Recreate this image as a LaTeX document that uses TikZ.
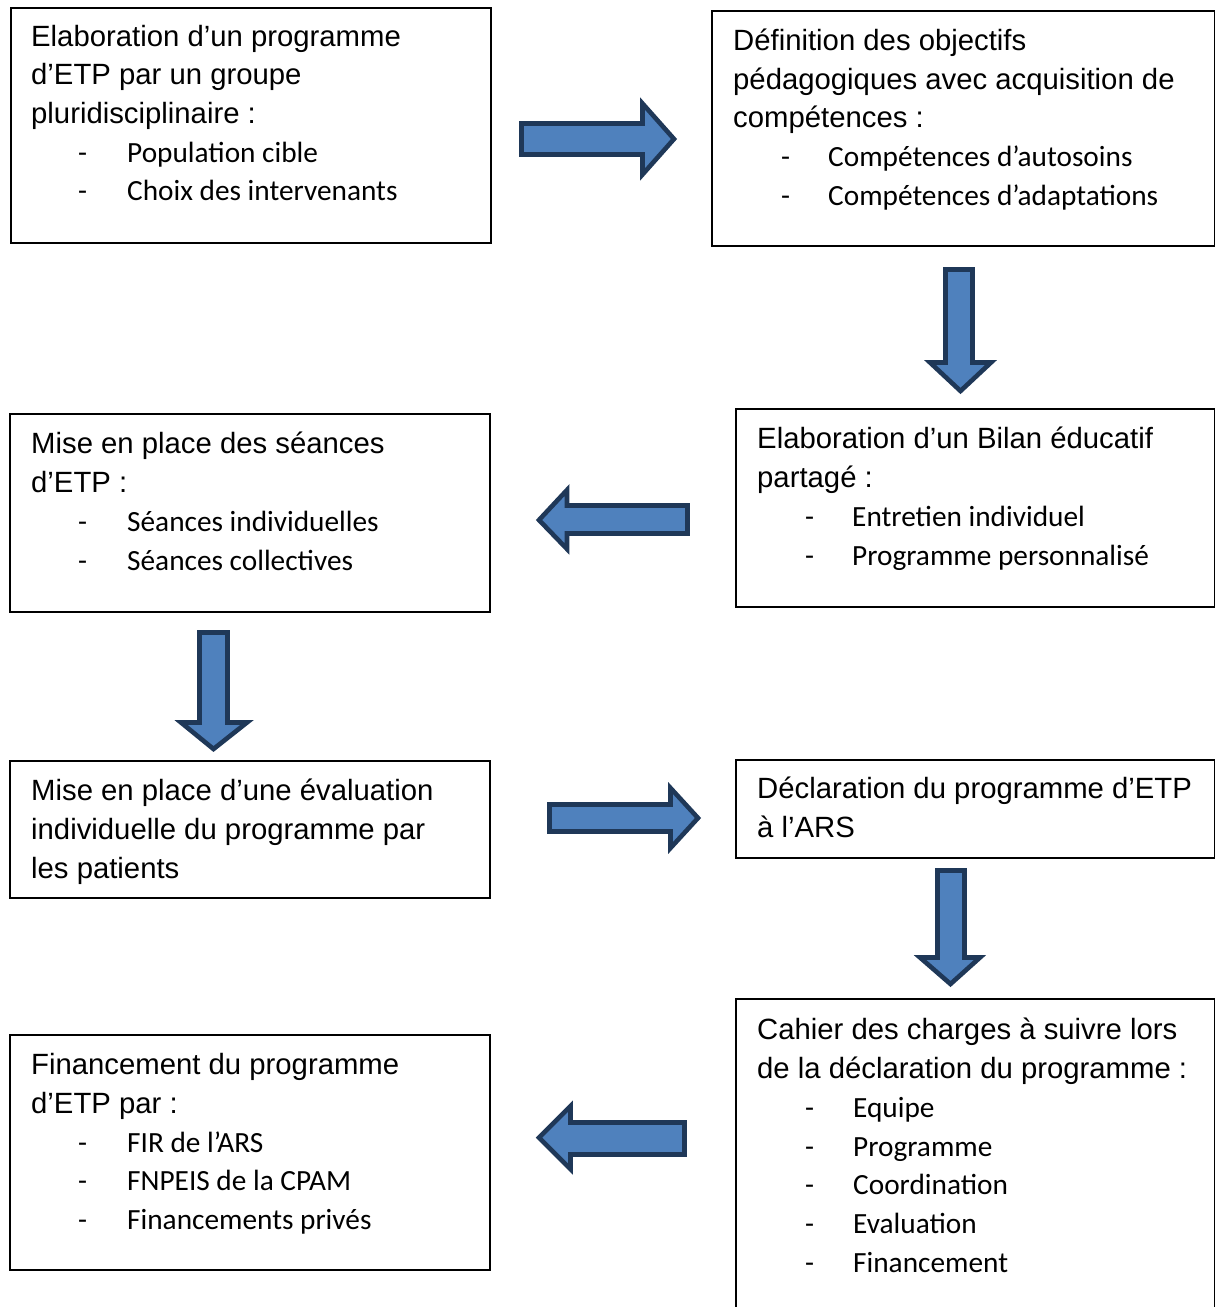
\documentclass[tikz,border=0pt]{standalone}
\usepackage{fontspec}
\newfontfamily\arialf{Liberation Sans}
\newfontfamily\calib{Carlito}
\definecolor{arrfill}{HTML}{4F81BD}
\definecolor{arrline}{HTML}{1F3858}
\tikzset{
  boxst/.style={draw=black, line width=1.6pt, inner sep=0pt, outer sep=0pt, anchor=north west},
  hd/.style={anchor=base west, inner sep=0pt, font=\arialf\fontsize{29.3}{35}\selectfont},
  bl/.style={anchor=base west, inner sep=0pt, font=\calib\fontsize{29.3}{35}\selectfont},
  blockarrow/.style={fill=arrfill, draw=arrline, line width=4.6pt, line join=miter}
}
\begin{document}
\begin{tikzpicture}[x=1pt,y=-1pt]
\useasboundingbox (0,0) rectangle (1215,1307);
\clip (0,0) rectangle (1215,1307);
\fill[white] (0,0) rectangle (1215,1307);

% boxes
\node[boxst, minimum width=480pt, minimum height=235pt] (A) at (11,8) {};
\node[boxst, minimum width=503pt, minimum height=235pt] (B) at (712,11) {};
\node[boxst, minimum width=479pt, minimum height=198pt] (C) at (736,409) {};
\node[boxst, minimum width=480pt, minimum height=198pt] (D) at (10,414) {};
\node[boxst, minimum width=480pt, minimum height=137pt] (E) at (10,761) {};
\node[boxst, minimum width=479pt, minimum height=98pt] (F) at (736,760) {};
\node[boxst, minimum width=479pt, minimum height=340pt] (G) at (736,999) {};
\node[boxst, minimum width=480pt, minimum height=235pt] (H) at (10,1035) {};

% box A text
\node[hd] (a1) at (31,46) {Elaboration d’un programme};
\node[hd] (a2) at (31,84.5) {d’ETP par un groupe};
\node[hd] (a3) at (31,123) {pluridisciplinaire :};
\node[bl] (a4d) at (78,162) {-};
\node[bl] (a4) at (127,162) {Population cible};
\node[bl] (a5d) at (78,200.5) {-};
\node[bl] (a5) at (127,200.5) {Choix des intervenants};

% box B text
\node[hd] (b1) at (733,50.5) {Définition des objectifs};
\node[hd] (b2) at (733,89) {pédagogiques avec acquisition de};
\node[hd] (b3) at (733,127.5) {compétences :};
\node[bl] (b4d) at (781,166.5) {-};
\node[bl] (b4) at (828,166.5) {Compétences d’autosoins};
\node[bl] (b5d) at (781,205.5) {-};
\node[bl] (b5) at (828,205.5) {Compétences d’adaptations};

% box C text
\node[hd] (c1) at (757,448) {Elaboration d’un Bilan éducatif};
\node[hd] (c2) at (757,487) {partagé :};
\node[bl] (c3d) at (805,526) {-};
\node[bl] (c3) at (852,526) {Entretien individuel};
\node[bl] (c4d) at (805,565) {-};
\node[bl] (c4) at (852,565) {Programme personnalisé};

% box D text
\node[hd] (d1) at (31,453) {Mise en place des séances};
\node[hd] (d2) at (31,492) {d’ETP :};
\node[bl] (d3d) at (78,531) {-};
\node[bl] (d3) at (127,531) {Séances individuelles};
\node[bl] (d4d) at (78,570) {-};
\node[bl] (d4) at (127,570) {Séances collectives};

% box E text
\node[hd] (e1) at (31,800) {Mise en place d’une évaluation};
\node[hd] (e2) at (31,839) {individuelle du programme par};
\node[hd] (e3) at (31,878) {les patients};

% box F text
\node[hd] (f1) at (757,798) {Déclaration du programme d’ETP};
\node[hd] (f2) at (757,837) {à l’ARS};

% box G text
\node[hd] (g1) at (757,1039) {Cahier des charges à suivre lors};
\node[hd] (g2) at (757,1078) {de la déclaration du programme :};
\node[bl] (g3d) at (805,1117) {-};
\node[bl] (g3) at (853,1117) {Equipe};
\node[bl] (g4d) at (805,1156) {-};
\node[bl] (g4) at (853,1156) {Programme};
\node[bl] (g5d) at (805,1194) {-};
\node[bl] (g5) at (853,1194) {Coordination};
\node[bl] (g6d) at (805,1233) {-};
\node[bl] (g6) at (853,1233) {Evaluation};
\node[bl] (g7d) at (805,1272) {-};
\node[bl] (g7) at (853,1272) {Financement};

% box H text
\node[hd] (h1) at (31,1074) {Financement du programme};
\node[hd] (h2) at (31,1113) {d’ETP par :};
\node[bl] (h3d) at (78,1152) {-};
\node[bl] (h3) at (127,1152) {FIR de l’ARS};
\node[bl] (h4d) at (78,1190) {-};
\node[bl] (h4) at (127,1190) {FNPEIS de la CPAM};
\node[bl] (h5d) at (78,1229) {-};
\node[bl] (h5) at (127,1229) {Financements privés};

% block arrows
% A -> B
\draw[blockarrow] (521.5,123.5) -- (642.5,123.5) -- (642.5,103.5) -- (674,139) -- (642.5,174.5) -- (642.5,154.5) -- (521.5,154.5) -- cycle;
% B -> C
\draw[blockarrow] (945.5,269.5) -- (972.5,269.5) -- (972.5,362.5) -- (991,362.5) -- (960.5,391) -- (930,362.5) -- (945.5,362.5) -- cycle;
% C -> D
\draw[blockarrow] (687.5,505.5) -- (567,505.5) -- (567,490) -- (539,520) -- (567,549) -- (567,533.5) -- (687.5,533.5) -- cycle;
% D -> E
\draw[blockarrow] (199.5,632.5) -- (227.5,632.5) -- (227.5,722.5) -- (247,722.5) -- (213.5,749) -- (181,722.5) -- (199.5,722.5) -- cycle;
% E -> F
\draw[blockarrow] (549.5,804.5) -- (670.5,804.5) -- (670.5,788) -- (698,818) -- (670.5,848) -- (670.5,831.5) -- (549.5,831.5) -- cycle;
% F -> G
\draw[blockarrow] (937.5,870.5) -- (964.5,870.5) -- (964.5,957.5) -- (980,957.5) -- (950.5,984) -- (920,957.5) -- (937.5,957.5) -- cycle;
% G -> H
\draw[blockarrow] (684.5,1122.5) -- (570.5,1122.5) -- (570.5,1106) -- (539,1137.5) -- (570.5,1169) -- (570.5,1154.5) -- (684.5,1154.5) -- cycle;
\end{tikzpicture}
\end{document}
